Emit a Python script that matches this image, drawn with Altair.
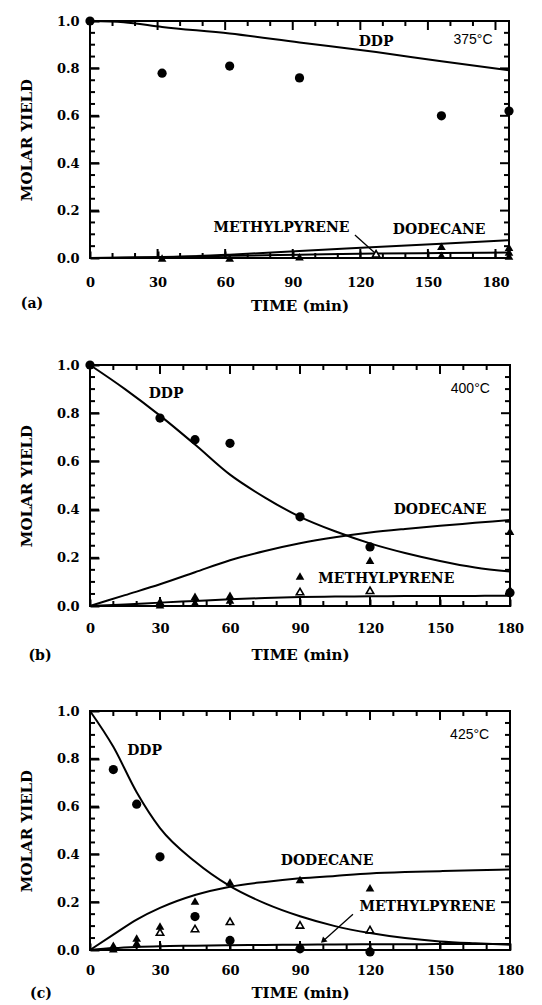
import altair as alt
import pandas as pd

# ---------------- data ----------------
# Panel (a) 375°C
a_ddp_t = [0, 32, 62, 93, 156, 186]
a_ddp_y = [1.0, 0.78, 0.81, 0.76, 0.60, 0.62]
a_tri_t = [32, 62, 93, 156, 156, 186, 186, 186]
a_tri_y = [0.0, 0.0, 0.005, 0.05, 0.012, 0.045, 0.025, 0.008]
a_open_t = [127]
a_open_y = [0.018]
a_line_t = [0, 15, 32, 62, 93, 127, 156, 186]
a_line_ddp = [1.0, 0.995, 0.975, 0.947, 0.909, 0.869, 0.830, 0.792]
a_line_dod = [0.0, 0.001, 0.003, 0.014, 0.030, 0.046, 0.060, 0.075]
a_line_mp = [0.0, 0.002, 0.004, 0.009, 0.014, 0.019, 0.021, 0.023]

# Panel (b) 400°C
b_ddp_t = [0, 30, 45, 60, 90, 120, 180]
b_ddp_y = [1.0, 0.78, 0.69, 0.675, 0.37, 0.245, 0.055]
b_tri_t = [30, 45, 60, 90, 120, 180, 30, 45, 60, 180]
b_tri_y = [0.02, 0.04, 0.045, 0.125, 0.19, 0.31, 0.005, 0.015, 0.025, 0.07]
b_open_t = [90, 120]
b_open_y = [0.06, 0.065]
b_line_t = [0, 15, 30, 45, 60, 75, 90, 105, 120, 135, 150, 165, 180]
b_line_ddp = [1.0, 0.90, 0.79, 0.67, 0.545, 0.45, 0.37, 0.31, 0.26, 0.22, 0.187, 0.16, 0.143]
b_line_dod = [0.0, 0.045, 0.09, 0.14, 0.19, 0.228, 0.26, 0.285, 0.305, 0.32, 0.333, 0.345, 0.357]
b_line_mp = [0.0, 0.006, 0.014, 0.021, 0.028, 0.033, 0.037, 0.039, 0.040, 0.041, 0.042, 0.042, 0.043]

# Panel (c) 425°C
c_ddp_t = [10, 20, 30, 45, 60, 90, 120]
c_ddp_y = [0.755, 0.61, 0.39, 0.14, 0.04, 0.005, -0.008]
c_tri_t = [10, 20, 30, 45, 60, 90, 120, 10, 20]
c_tri_y = [0.02, 0.05, 0.10, 0.205, 0.285, 0.295, 0.26, 0.005, 0.03]
c_open_t = [30, 45, 60, 90, 120]
c_open_y = [0.075, 0.09, 0.12, 0.105, 0.085]
c_line_t = [0, 10, 20, 30, 45, 60, 75, 90, 105, 120, 135, 150, 165, 180]
c_line_ddp = [1.0, 0.85, 0.66, 0.51, 0.37, 0.267, 0.195, 0.141, 0.10, 0.071, 0.05, 0.036, 0.028, 0.022]
c_line_dod = [0.0, 0.064, 0.127, 0.176, 0.23, 0.265, 0.285, 0.30, 0.31, 0.32, 0.326, 0.33, 0.334, 0.337]
c_line_mp = [0.0, 0.008, 0.013, 0.016, 0.018, 0.020, 0.021, 0.022, 0.023, 0.024, 0.024, 0.025, 0.025, 0.025]

# tick values
x_major = [0, 30, 60, 90, 120, 150, 180]
x_minor = [10, 20, 40, 50, 70, 80, 100, 110, 130, 140, 160, 170]
y_major = [0.0, 0.2, 0.4, 0.6, 0.8, 1.0]
y_minor = [0.05, 0.1, 0.15, 0.25, 0.3, 0.35, 0.45, 0.5, 0.55, 0.65, 0.7, 0.75, 0.85, 0.9, 0.95]

# annotation labels (text, time, yield)
a_notes = [("DDP", 127, 0.91), ("METHYLPYRENE", 85, 0.127), ("DODECANE", 155, 0.118)]
b_notes = [("DDP", 32.6, 0.88), ("DODECANE", 150, 0.398), ("METHYLPYRENE", 127, 0.112)]
c_notes = [("DDP", 23.4, 0.833), ("DODECANE", 101.6, 0.374), ("METHYLPYRENE", 144.6, 0.179)]
temps = [("375°C", 170, 0.92), ("400°C", 163, 0.90), ("425°C", 162.7, 0.90)]
a_arrow = (117.6, 0.097, 126.5, 0.021)
c_arrow = (112.7, 0.15, 99.9, 0.038)

SERIF = "DejaVu Serif"


def panel(w, h, xmax, ddp, tri, opn, lines, notes, temp, arrow, head, tag, tagpos, lpad, tpad):
    xs = alt.Scale(domain=[0, xmax], nice=False, zero=False)
    ys = alt.Scale(domain=[0, 1], nice=False)
    # axis drawn 7/9 px inside the frame with outward ticks of the same length -> inward-looking ticks
    xax = alt.Axis(values=x_major, title="TIME (min)", labelFlush=False, labelPadding=lpad, titlePadding=tpad,
                   ticks=True, tickSize=7, offset=-7, tickColor="black", tickWidth=2)
    yax = alt.Axis(values=y_major, format=".1f", title="MOLAR YIELD", labelFlush=False,
                   ticks=True, tickSize=9, offset=-9, tickColor="black", tickWidth=2)

    def X(f):
        return alt.X(f"{f}:Q", scale=xs, axis=xax)

    def Y(f):
        return alt.Y(f"{f}:Q", scale=ys, axis=yax)

    layers = []
    # inward ticks on all four sides, as short rule segments placed through the scales
    seg = {"t": [], "t2": [], "y": [], "y2": [], "k": []}
    for vals, L, k in ((x_major, 9, "M"), (x_minor, 5, "m")):
        dy = L / h
        for v in vals:
            for a, b in ((0.0, dy), (1.0, 1.0 - dy)):
                seg["t"].append(float(v)); seg["t2"].append(float(v))
                seg["y"].append(a); seg["y2"].append(b); seg["k"].append(k)
    for vals, L, k in ((y_major, 9, "M"), (y_minor, 5, "m")):
        dx = L * xmax / w
        for v in vals:
            for a, b in ((0.0, dx), (float(xmax), xmax - dx)):
                seg["t"].append(a); seg["t2"].append(b)
                seg["y"].append(float(v)); seg["y2"].append(float(v)); seg["k"].append(k)
    sdf = pd.DataFrame(seg)
    layers.append(alt.Chart(sdf).mark_rule(color="black", strokeWidth=2).encode(
        x=X("t"), y=Y("y"), x2="t2:Q", y2="y2:Q"))

    lt, ld, lo, lm = lines
    ldf = pd.DataFrame({
        "t": lt * 3,
        "y": ld + lo + lm,
        "s": ["DDP"] * len(lt) + ["DOD"] * len(lt) + ["MP"] * len(lt),
    })
    layers.append(alt.Chart(ldf).mark_line(color="black", strokeWidth=2, interpolate="monotone").encode(
        x=X("t"), y=Y("y"), detail="s:N"))

    cdf = pd.DataFrame({"t": ddp[0], "y": ddp[1]})
    layers.append(alt.Chart(cdf).mark_point(shape="circle", filled=True, color="black", size=85, opacity=1).encode(
        x=X("t"), y=Y("y")))
    tdf = pd.DataFrame({"t": tri[0], "y": tri[1]})
    layers.append(alt.Chart(tdf).mark_point(shape="triangle-up", filled=True, color="black", size=75,
                                            opacity=1).encode(x=X("t"), y=Y("y")))
    odf = pd.DataFrame({"t": opn[0], "y": opn[1]})
    layers.append(alt.Chart(odf).mark_point(shape="triangle-up", filled=True, fill="white", stroke="black",
                                            strokeWidth=1.6, size=55, opacity=1).encode(x=X("t"), y=Y("y")))

    ndf = pd.DataFrame({"txt": [n[0] for n in notes], "t": [n[1] for n in notes], "y": [n[2] for n in notes]})
    layers.append(alt.Chart(ndf).mark_text(font=SERIF, fontWeight="bold", fontSize=14, color="black").encode(
        x=X("t"), y=Y("y"), text="txt:N"))
    tdf2 = pd.DataFrame({"txt": [temp[0]], "t": [temp[1]], "y": [temp[2]]})
    layers.append(alt.Chart(tdf2).mark_text(font="Liberation Sans", fontSize=14, color="black").encode(
        x=X("t"), y=Y("y"), text="txt:N"))

    if arrow is not None:
        adf = pd.DataFrame({"t": [arrow[0]], "y": [arrow[1]], "t2": [arrow[2]], "y2": [arrow[3]]})
        layers.append(alt.Chart(adf).mark_rule(color="black", strokeWidth=1.3).encode(
            x=X("t"), y=Y("y"), x2="t2:Q", y2="y2:Q"))
        if head is not None:
            hdf = pd.DataFrame({"t": [arrow[2]], "y": [arrow[3]]})
            layers.append(alt.Chart(hdf).mark_point(shape="triangle-up", filled=True, color="black",
                                                    size=45, angle=head, opacity=1).encode(x=X("t"), y=Y("y")))

    layers.append(alt.Chart(pd.DataFrame({"lab": [tag]})).mark_text(
        font=SERIF, fontWeight="bold", fontSize=14, color="black").encode(
        x=alt.value(tagpos[0]), y=alt.value(h + tagpos[1]), text="lab:N"))

    return alt.layer(*layers).properties(width=w, height=h)


pa = panel(419, 237, 186, (a_ddp_t, a_ddp_y), (a_tri_t, a_tri_y), (a_open_t, a_open_y),
           (a_line_t, a_line_ddp, a_line_dod, a_line_mp), a_notes, temps[0], a_arrow, None,
           "(a)", (-58, 46), 18, 9)
pb = panel(420, 241, 180, (b_ddp_t, b_ddp_y), (b_tri_t, b_tri_y), (b_open_t, b_open_y),
           (b_line_t, b_line_ddp, b_line_dod, b_line_mp), b_notes, temps[1], None, None,
           "(b)", (-50, 50), 16, 12)
pc = panel(420, 239, 180, (c_ddp_t, c_ddp_y), (c_tri_t, c_tri_y), (c_open_t, c_open_y),
           (c_line_t, c_line_ddp, c_line_dod, c_line_mp), c_notes, temps[2], c_arrow, 228,
           "(c)", (-49, 44), 14, 8)

top_two = alt.vconcat(pa, pb, spacing=44)
chart = alt.vconcat(top_two, pc, spacing=40).properties(
    padding={"left": 10, "top": 6, "right": 5, "bottom": 2}
).configure_view(stroke="black", strokeWidth=2).configure_axis(
    domain=False, ticks=False, grid=False,
    labelFont=SERIF, labelFontWeight="bold", labelFontSize=13, labelColor="black", labelPadding=11,
    titleFont=SERIF, titleFontWeight="bold", titleFontSize=15, titleColor="black",
).configure_axisY(titlePadding=22)

chart.save("out.html", embed_options={"renderer": "svg", "actions": False})
